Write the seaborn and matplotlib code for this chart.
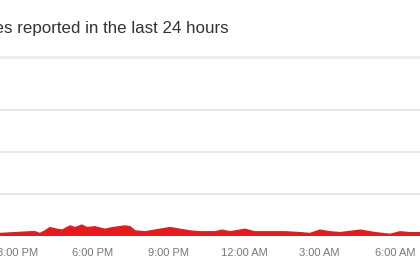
import matplotlib
matplotlib.use("Agg")
import matplotlib.pyplot as plt
import pandas as pd
import seaborn as sns

times = ["2024-01-01 14:19", "2024-01-01 14:55", "2024-01-01 15:31", "2024-01-01 15:43",
         "2024-01-01 15:54", "2024-01-01 16:06", "2024-01-01 16:18", "2024-01-01 16:35",
         "2024-01-01 16:47", "2024-01-01 17:06", "2024-01-01 17:18", "2024-01-01 17:34",
         "2024-01-01 17:46", "2024-01-01 18:05", "2024-01-01 18:29", "2024-01-01 18:48",
         "2024-01-01 19:17", "2024-01-01 19:29", "2024-01-01 19:41", "2024-01-01 20:04",
         "2024-01-01 20:28", "2024-01-01 21:04", "2024-01-01 21:28", "2024-01-01 21:52",
         "2024-01-01 22:15", "2024-01-01 22:51", "2024-01-01 23:08", "2024-01-01 23:27",
         "2024-01-02 00:02", "2024-01-02 00:26", "2024-01-02 00:50", "2024-01-02 01:38",
         "2024-01-02 02:13", "2024-01-02 02:37", "2024-01-02 03:01", "2024-01-02 03:25",
         "2024-01-02 03:49", "2024-01-02 04:37", "2024-01-02 05:12", "2024-01-02 05:48",
         "2024-01-02 06:11", "2024-01-02 06:35", "2024-01-02 06:59"]
reports = [3, 4, 5, 5, 3, 6, 10, 8, 7, 12, 10, 13, 10, 11, 8, 10, 12, 11, 6, 5,
           7, 10, 8, 6, 5, 5, 7, 5, 8, 5, 5, 5, 4, 3, 7, 5, 4, 7, 4, 2, 5, 4, 4]
tick_times = ["2024-01-01 15:00", "2024-01-01 18:00", "2024-01-01 21:00",
              "2024-01-02 00:00", "2024-01-02 03:00", "2024-01-02 06:00"]
tick_labels = ["3:00 PM", "6:00 PM", "9:00 PM", "12:00 AM", "3:00 AM", "6:00 AM"]
grid_values = [0, 50, 100, 150]
title = "outages reported in the last 24 hours"

df = pd.DataFrame({"time": pd.to_datetime(times), "reports": reports})

sns.set_theme(style="white")
plt.rcParams['font.family'] = ['Liberation Sans', 'DejaVu Sans']

fig = plt.figure(figsize=(4.2, 2.8), dpi=100)
ax = fig.add_axes([0, 44 / 280, 1, (236 - 57) / 280])

ax.fill_between(df["time"], 0, df["reports"], color="#e8191c", lw=0, zorder=2)
sns.lineplot(data=df, x="time", y="reports", ax=ax, color="#a33a36", lw=1.0, zorder=3)

ax.set_xlim(pd.Timestamp("2024-01-01 14:19"), pd.Timestamp("2024-01-02 06:59"))
ax.set_ylim(0, 213)
ax.set_yticks(grid_values)
ax.set_yticklabels([])
ax.yaxis.grid(True, color="#e4e4e4", lw=1.3)
ax.set_axisbelow(True)
ax.tick_params(axis="y", length=0)
ax.set_xticks(pd.to_datetime(tick_times))
ax.set_xticklabels(tick_labels, fontsize=8, color="#777777")
ax.tick_params(axis="x", length=0, pad=9)
ax.set_xlabel("")
ax.set_ylabel("")
for s in ["left", "right", "bottom"]:
    ax.spines[s].set_visible(False)
ax.spines["top"].set_color("#ececec")
ax.spines["top"].set_linewidth(2)

fig.text(229 / 420, 1 - 28 / 280, title, ha="right", va="center",
         fontsize=12.2, color="#333333")

fig.savefig("out.png", dpi=100)
